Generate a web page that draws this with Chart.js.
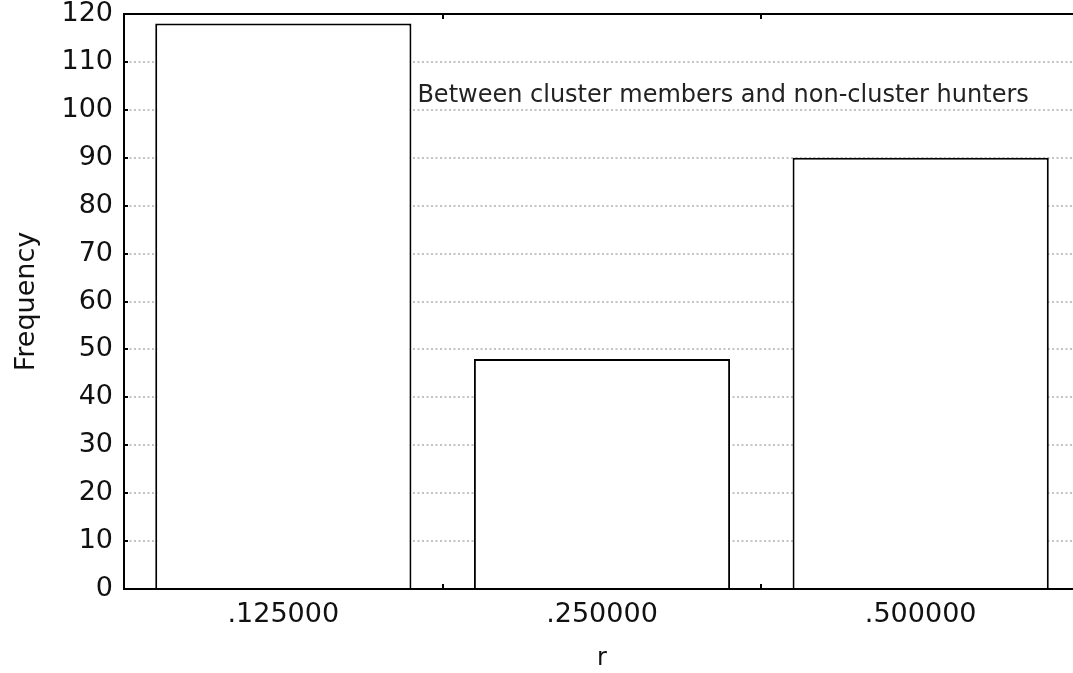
<!DOCTYPE html>
<html>
<head>
<meta charset="utf-8">
<script src="https://cdn.jsdelivr.net/npm/chart.js@4/dist/chart.umd.min.js"></script>
<style>
html,body{margin:0;padding:0;background:#fff;overflow:hidden;}
#wrap{position:relative;width:1080px;height:673px;}
</style>
</head>
<body>
<div id="wrap"><canvas id="c"></canvas></div>
<script>
const categories = ['.125000', '.250000', '.500000'];
const frequencies = [118, 48, 90];
const yTicks = [0, 10, 20, 30, 40, 50, 60, 70, 80, 90, 100, 110, 120];
const annotationText = 'Between cluster members and non-cluster hunters';
const annotationValue = 103;
const xTitle = 'r';
const yTitle = 'Frequency';

const FONT = "'DejaVu Sans', Verdana, sans-serif";

const framePlugin = {
  id: 'frame',
  afterDraw(chart) {
    const ctx = chart.ctx;
    const a = chart.chartArea;
    const xs = chart.scales.x, ys = chart.scales.y;
    ctx.save();
    ctx.strokeStyle = '#000';
    ctx.lineWidth = 2;
    ctx.beginPath();
    ctx.moveTo(a.left - 1, a.top);
    ctx.lineTo(a.right, a.top);
    ctx.stroke();
    yTicks.forEach(v => {
      const y = Math.round(ys.getPixelForValue(v));
      ctx.beginPath();
      ctx.moveTo(a.left, y);
      ctx.lineTo(a.left + 4, y);
      ctx.stroke();
    });
    for (let i = 0; i < categories.length - 1; i++) {
      const x = Math.round((xs.getPixelForValue(i) + xs.getPixelForValue(i + 1)) / 2);
      ctx.beginPath();
      ctx.moveTo(x, a.bottom);
      ctx.lineTo(x, a.bottom - 5);
      ctx.moveTo(x, a.top);
      ctx.lineTo(x, a.top + 5);
      ctx.stroke();
    }
    ctx.fillStyle = '#222';
    ctx.font = '24px ' + FONT;
    ctx.textAlign = 'center';
    ctx.textBaseline = 'middle';
    const cx = xs.getPixelForValue(1) + (xs.getPixelForValue(2) - xs.getPixelForValue(1)) * 0.38;
    ctx.fillText(annotationText, cx, ys.getPixelForValue(annotationValue));
    ctx.restore();
  }
};

new Chart(document.getElementById('c'), {
  type: 'bar',
  data: {
    labels: categories,
    datasets: [{
      data: frequencies,
      backgroundColor: '#ffffff',
      borderColor: '#000000',
      borderWidth: 2,
      barPercentage: 0.804,
      categoryPercentage: 1.0
    }]
  },
  options: {
    responsive: true,
    maintainAspectRatio: false,
    animation: false,
    devicePixelRatio: 1,
    layout: { padding: { top: 14, right: 0, left: 0, bottom: 0 } },
    plugins: { legend: { display: false }, tooltip: { enabled: false } },
    scales: {
      x: {
        offset: true,
        grid: { display: false, drawTicks: false },
        border: { display: true, color: '#000', width: 2 },
        ticks: { color: '#111', font: { family: FONT, size: 27 }, padding: 10, maxRotation: 0 },
        title: { display: true, text: xTitle, color: '#111', font: { family: FONT, size: 24 }, padding: { top: 0, bottom: 0 } },
        afterFit(s) { s.height = 84; s.paddingLeft = 0; s.paddingRight = 0; }
      },
      y: {
        min: 0, max: 120,
        afterBuildTicks(s) { s.ticks = yTicks.map(v => ({ value: v })); },
        grid: {
          drawTicks: false,
          lineWidth: 2,
          color: ctx => (ctx.tick && (ctx.tick.value === 0 || ctx.tick.value === 120)) ? 'rgba(0,0,0,0)' : '#c4c4c4'
        },
        border: { display: true, color: '#000', width: 2, dash: [2, 2.5] },
        ticks: { color: '#111', font: { family: FONT, size: 27 }, padding: 11 },
        title: { display: true, text: yTitle, color: '#111', font: { family: FONT, size: 27 }, padding: { top: 11, bottom: 11 } },
        afterFit(s) { s.width = 124; s.paddingTop = 0; s.paddingBottom = 0; }
      }
    }
  },
  plugins: [framePlugin]
});
</script>
</body>
</html>
